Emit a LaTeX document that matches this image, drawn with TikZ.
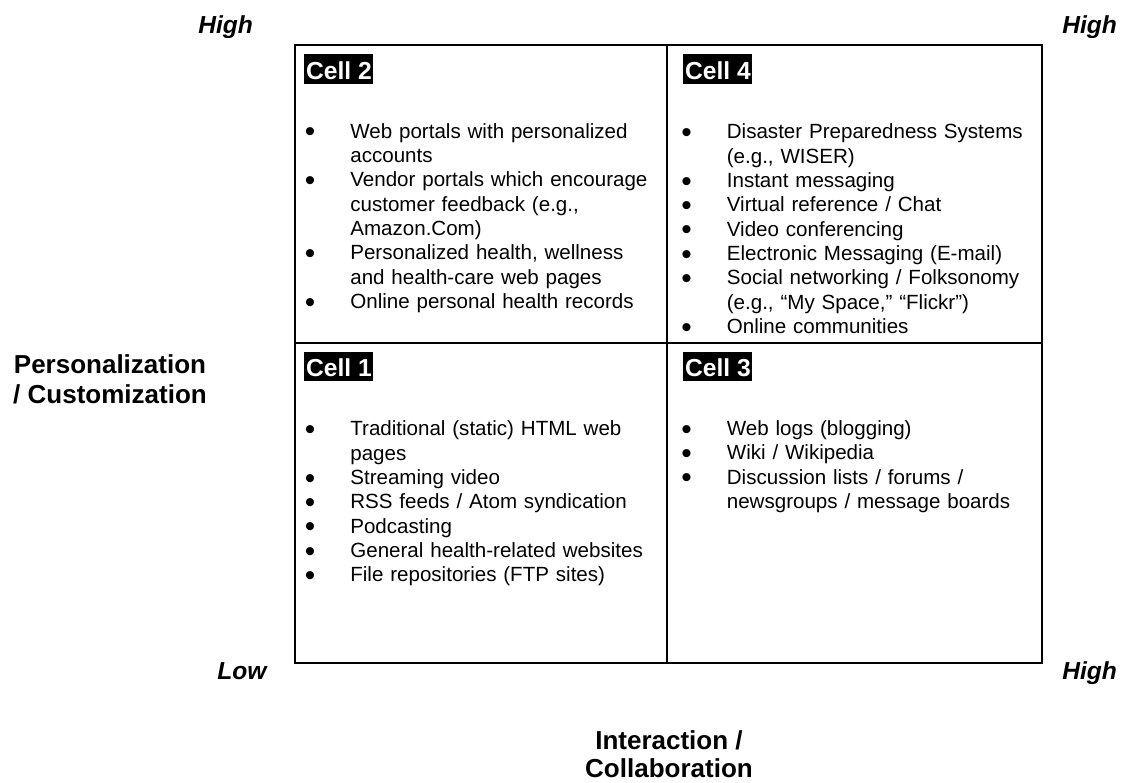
\documentclass[tikz,border=0pt]{standalone}
\usepackage{fontspec}
\setmainfont{Liberation Sans}
\usepackage{tikz}
\newlength{\qindent}
\setlength{\qindent}{25.9pt}
\newcommand{\qitem}{\par\noindent\hangindent=\qindent\hangafter=1\makebox[\qindent][l]{\raisebox{-2pt}{\scalebox{1.45}{\textbullet}}}\strut}

\begin{document}
\begin{tikzpicture}[x=0.02cm, y=-0.02cm,
    grid/.style={line width=1pt},
    celltag/.style={anchor=base west, fill=black, text=white, font=\fontsize{14}{16}\selectfont\bfseries, inner xsep=1pt, inner ysep=0pt, text height=14.3pt, text depth=2.7pt},
    cellist/.style={anchor=north west, inner sep=0pt, text width=7.2cm, align=left, font=\fontsize{11.7}{13.85}\selectfont},
    level/.style={anchor=base west, inner sep=0pt, font=\fontsize{14}{16}\selectfont\bfseries\itshape},
    axis/.style={anchor=north, inner sep=0pt, align=center}]
\useasboundingbox (0,0) rectangle (1123,782);
% quadrant frame
\coordinate (nw) at (295,45);
\coordinate (se) at (1042,663);
\coordinate (top) at (667,45);
\coordinate (bottom) at (667,663);
\coordinate (left) at (295,343);
\coordinate (right) at (1042,343);
\draw[grid] (nw) rectangle (se);
\draw[grid] (top) -- (bottom);
\draw[grid] (left) -- (right);
% cell tags
\node[celltag] (tagtwo) at (304,79.3) {Cell 2};
\node[celltag] (tagfour) at (683,79.5) {Cell 4};
\node[celltag] (tagone) at (304,376.7) {Cell 1};
\node[celltag] (tagthree) at (683,376.7) {Cell 3};
% cell contents
\node[cellist] (listtwo) at (304.5,113.5) {%
\qitem Web portals with personalized\newline accounts
\qitem Vendor portals which encourage\newline customer feedback (e.g.,\newline Amazon.Com)
\qitem Personalized health, wellness\newline and health-care web pages
\qitem Online personal health records\par};
\node[cellist] (listfour) at (681,114.3) {%
\qitem Disaster Preparedness Systems\newline (e.g., WISER)
\qitem Instant messaging
\qitem Virtual reference / Chat
\qitem Video conferencing
\qitem Electronic Messaging (E-mail)
\qitem Social networking / Folksonomy\newline (e.g., “My Space,” “Flickr”)
\qitem Online communities\par};
\node[cellist] (listone) at (304.5,411.3) {%
\qitem Traditional (static) HTML web\newline pages
\qitem Streaming video
\qitem RSS feeds / Atom syndication
\qitem Podcasting
\qitem General health-related websites
\qitem File repositories (FTP sites)\par};
\node[cellist] (listthree) at (681,410.8) {%
\qitem Web logs (blogging)
\qitem Wiki / Wikipedia
\qitem Discussion lists / forums /\newline newsgroups / message boards\par};
% axis ends
\node[level] (yhigh) at (198,33) {High};
\node[level] (xyhigh) at (1062,33) {High};
\node[level] (low) at (217,679) {Low};
\node[level] (xhigh) at (1062,679) {High};
% axis titles
\node[axis, font=\fontsize{14.8}{17}\selectfont\bfseries] (persaxis) at (110,354) {Personalization\\/ Customization};
\node[axis, font=\fontsize{14.8}{15.8}\selectfont\bfseries] (interaxis) at (669,730.5) {Interaction /\\Collaboration};
\end{tikzpicture}
\end{document}
